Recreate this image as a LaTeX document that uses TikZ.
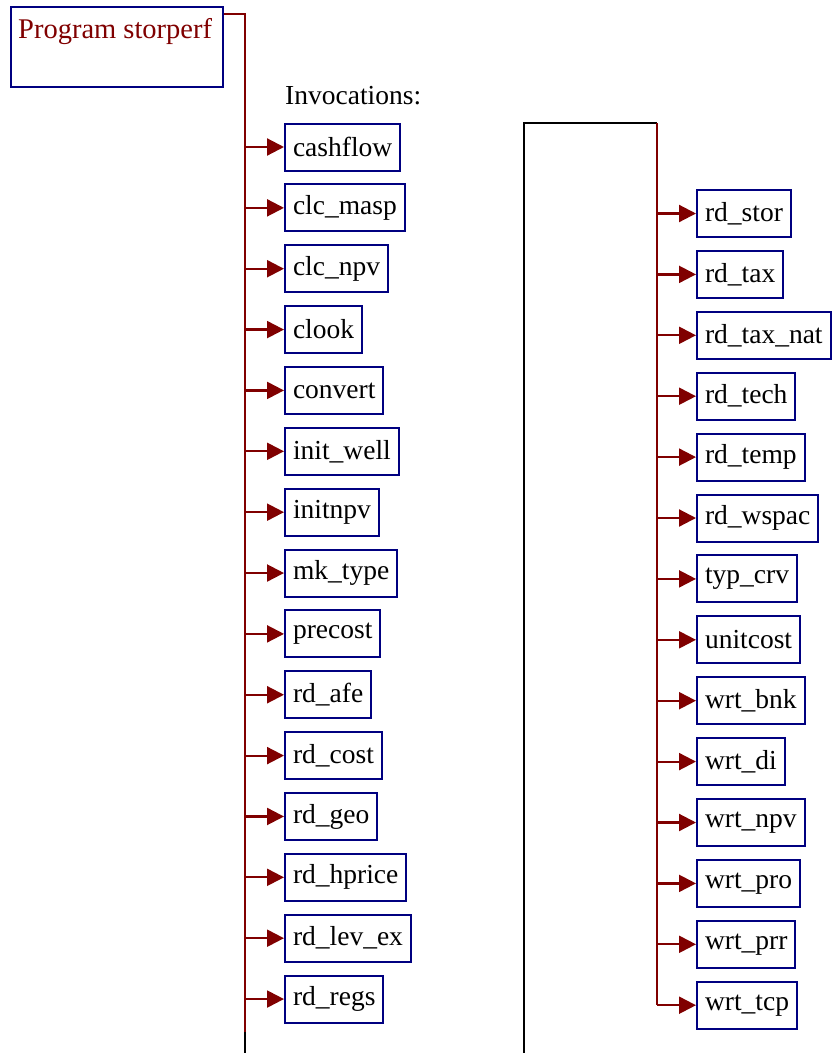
\documentclass[tikz,border=0pt]{standalone}
\usepackage{fontspec}
\setmainfont{Liberation Serif}
\usetikzlibrary{arrows.meta}
\definecolor{callred}{HTML}{800000}
\definecolor{boxblue}{HTML}{000080}
\tikzset{
	unit/.style={draw=boxblue,line width=2pt,anchor=west,inner xsep=8pt,minimum height=47pt,font=\fontsize{27.5}{32}\selectfont},
	call/.style={draw=callred,line width=2.2pt,-{Triangle[length=17pt,width=17pt]}},
	tree/.style={draw=callred,line width=2.2pt},
	link/.style={draw=black,line width=2.6pt},
}
\begin{document}
\begin{tikzpicture}[x=1pt,y=-1pt]
	\useasboundingbox (0,0) rectangle (831,1053);
	% main program box
	\node[draw=boxblue,line width=2pt,minimum width=212pt,minimum height=80pt,anchor=north west](prog)at(10,6){};
	\node[anchor=base west,inner sep=0pt,text=callred,font=\fontsize{28.5}{32}\selectfont](progname)at(18,38){Program storperf};
	\node[anchor=base west,inner sep=0pt,font=\fontsize{27.5}{32}\selectfont](inv)at(285,104){Invocations:};
	% trunk lines
	\coordinate(trunktop)at(245,14);
	\coordinate(trunkend)at(245,1032);
	\coordinate(leftfoot)at(245,1053);
	\coordinate(rfoot)at(524,1053);
	\coordinate(rcorner)at(524,123);
	\coordinate(rtop)at(657,123);
	\draw[tree](prog.east|-trunktop)--(trunktop)--(trunkend);
	\draw[link](trunkend)--(leftfoot);
	\draw[link](rfoot)--(rcorner)--(rtop);
	% left column
	\foreach \n[count=\i] in {cashflow,clc\_masp,clc\_npv,clook,convert,init\_well,initnpv,mk\_type,precost,rd\_afe,rd\_cost,rd\_geo,rd\_hprice,rd\_lev\_ex,rd\_regs}
		\node[unit](L\i)at(284,{147+(\i-1)*60.86}){\n};
	\foreach \i in {1,...,15}
		\draw[call](trunktop|-L\i.west)--(L\i.west);
	% right column
	\foreach \n[count=\i] in {rd\_stor,rd\_tax,rd\_tax\_nat,rd\_tech,rd\_temp,rd\_wspac,typ\_crv,unitcost,wrt\_bnk,wrt\_di,wrt\_npv,wrt\_pro,wrt\_prr,wrt\_tcp}
		\node[unit](R\i)at(696,{213.5+(\i-1)*60.9}){\n};
	\draw[tree](rtop)--(rtop|-R14.west);
	\foreach \i in {1,...,14}
		\draw[call](rtop|-R\i.west)--(R\i.west);
\end{tikzpicture}
\end{document}
